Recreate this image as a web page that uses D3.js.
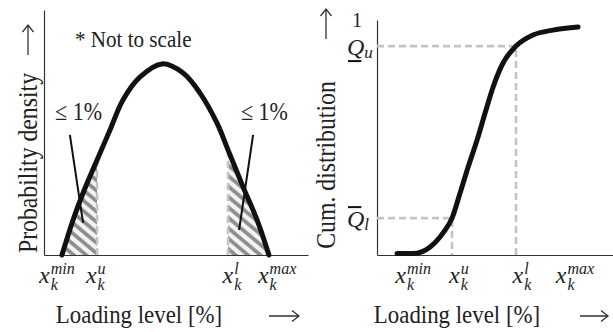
<!DOCTYPE html>
<html lang="en">
<head>
  <meta charset="UTF-8" />
  <title>Loading level distributions</title>
  <script src="https://d3js.org/d3.v7.min.js"></script>
  <style>
    body { margin: 0; background: #fff; }
    svg { display: block; }
    text { font-family: "Liberation Serif", "Times New Roman", serif; fill: #222; }
  </style>
</head>
<body>
  <div id="chart"></div>

  <script>
    // ----- Data (loading level in %, density / cumulative probability) -----
    const densityX = [6.8, 11.0, 14.8, 20.1, 25.0, 29.9, 36.4, 44.7, 52.7, 59.1, 65.5, 69.7, 75.4, 80.7, 85.2];
    const densityY = [0, 0.143, 0.253, 0.388, 0.51, 0.633, 0.727, 0.78, 0.743, 0.661, 0.539, 0.429, 0.278, 0.143, 0];
    const densityXu = 20.1;   // x_k^u on left panel
    const densityXl = 69.7;   // x_k^l on left panel

    const cdfX = [8.5, 15.3, 22.5, 28.0, 31.8, 35.2, 38.6, 42.4, 45.8, 49.2, 53.4, 58.9, 66.1, 74.6, 85.2];
    const cdfY = [0.006, 0.006, 0.034, 0.094, 0.157, 0.264, 0.374, 0.489, 0.604, 0.715, 0.817, 0.889, 0.936, 0.957, 0.970];
    const cdfXu = 31.8, cdfQl = 0.157;
    const cdfXl = 58.9, cdfQu = 0.889;

    // tick labels (main letter, superscript, subscript) and where they sit
    const tickSup = ['min', 'u', 'l', 'max'];
    const tickSub = ['k', 'k', 'k', 'k'];
    const leftTickAt  = [4.9, 19.6, 71.2, 88.3];
    const rightTickAt = [15.3, 34.7, 61.4, 83.9];

    const W = 613, H = 332;
    const SX = 0.88;   // the figure's serif is set a bit narrow

    const svg = d3.select('#chart').append('svg')
      .attr('width', W).attr('height', H);

    const defs = svg.append('defs');
    const pat = defs.append('pattern')
      .attr('id', 'hatch')
      .attr('patternUnits', 'userSpaceOnUse')
      .attr('width', 8).attr('height', 8)
      .attr('patternTransform', 'rotate(40)');
    pat.append('rect').attr('width', 8).attr('height', 8).attr('fill', '#f3f3f3');
    pat.append('line')
      .attr('x1', 0).attr('y1', 4).attr('x2', 8).attr('y2', 4)
      .attr('stroke', '#8a8a8a').attr('stroke-width', 3.6);

    // ----- helpers -----
    function txt(parent, x, y, s, size, anchor, rot) {
      return parent.append('text')
        .attr('transform', `translate(${x},${y}) rotate(${rot || 0}) scale(${SX},1)`)
        .attr('font-size', size)
        .attr('text-anchor', anchor || 'start')
        .text(s);
    }

    // thin open arrow, like the text arrow in the figure
    function arrow(cx, cy, len, rot) {
      const h = len / 2;
      svg.append('path')
        .attr('transform', `translate(${cx},${cy}) rotate(${rot || 0})`)
        .attr('d', `M${-h},0H${h}M${h - 7},-5.5L${h},0L${h - 7},5.5`)
        .attr('fill', 'none').attr('stroke', '#333').attr('stroke-width', 1.3);
    }

    function mathLabel(parent, cx, base, sup, sub) {
      const g = parent.append('g');
      const m = g.append('text').attr('font-size', 24).attr('font-style', 'italic').text('x');
      const w = m.node().getComputedTextLength() + 1;
      const a = g.append('text').attr('x', w).attr('y', -9)
        .attr('font-size', 16).attr('font-style', 'italic').text(sup);
      const b = g.append('text').attr('x', w).attr('y', 7)
        .attr('font-size', 16).attr('font-style', 'italic').text(sub);
      const tot = w + Math.max(a.node().getComputedTextLength(), b.node().getComputedTextLength());
      g.attr('transform', `translate(${cx - tot / 2},${base})`);
    }

    function axes(x, y) {
      svg.append('g').attr('transform', `translate(0,${y.range()[0]})`)
        .call(d3.axisBottom(x).tickValues([]).tickSizeOuter(0))
        .select('.domain').attr('stroke', '#333').attr('stroke-width', 1.2);
      svg.append('g').attr('transform', `translate(${x.range()[0]},0)`)
        .call(d3.axisLeft(y).tickValues([]).tickSizeOuter(0))
        .select('.domain').attr('stroke', '#333').attr('stroke-width', 1.2);
    }

    function dashed(pts) {
      svg.append('path')
        .attr('d', d3.line()(pts))
        .attr('fill', 'none')
        .attr('stroke', '#c4c4c4')
        .attr('stroke-width', 2.6)
        .attr('stroke-dasharray', '7,4');
    }

    // ===== Left panel: probability density =====
    const xL = d3.scaleLinear().domain([0, 100]).range([44, 308]);
    const yL = d3.scaleLinear().domain([0, 1]).range([255, 10]);
    const dens = densityX.map((d, i) => [d, densityY[i]]);

    axes(xL, yL);

    const area = d3.area()
      .x(d => xL(d[0])).y0(yL(0)).y1(d => yL(d[1]))
      .curve(d3.curveCatmullRom.alpha(0.5));

    defs.append('clipPath').attr('id', 'clipLo').append('rect')
      .attr('x', xL(0)).attr('y', yL(1))
      .attr('width', xL(densityXu) - xL(0)).attr('height', yL(0) - yL(1));
    defs.append('clipPath').attr('id', 'clipHi').append('rect')
      .attr('x', xL(densityXl)).attr('y', yL(1))
      .attr('width', xL(100) - xL(densityXl)).attr('height', yL(0) - yL(1));

    ['clipLo', 'clipHi'].forEach(id => {
      svg.append('path').datum(dens)
        .attr('d', area)
        .attr('fill', 'url(#hatch)')
        .attr('clip-path', `url(#${id})`);
    });

    const yAtU = densityY[densityX.indexOf(densityXu)];
    const yAtL = densityY[densityX.indexOf(densityXl)];
    dashed([[xL(densityXu), yL(yAtU)], [xL(densityXu), yL(0)]]);
    dashed([[xL(densityXl), yL(yAtL)], [xL(densityXl), yL(0)]]);

    svg.append('path').datum(dens)
      .attr('d', d3.line().x(d => xL(d[0])).y(d => yL(d[1])).curve(d3.curveCatmullRom.alpha(0.5)))
      .attr('fill', 'none').attr('stroke', '#111').attr('stroke-width', 5)
      .attr('stroke-linecap', 'round');

    // leader lines to the "<= 1%" notes
    const leaders = [[[9.8, 0.49], [14.8, 0.131]], [[79.2, 0.49], [73.9, 0.102]]];
    leaders.forEach(l => {
      svg.append('line')
        .attr('x1', xL(l[0][0])).attr('y1', yL(l[0][1]))
        .attr('x2', xL(l[1][0])).attr('y2', yL(l[1][1]))
        .attr('stroke', '#111').attr('stroke-width', 2);
    });
    txt(svg, xL(4.2), yL(0.551), '\u2264 1%', 25);
    txt(svg, xL(74.6), yL(0.551), '\u2264 1%', 25);
    txt(svg, xL(11.7), yL(0.849), '* Not to scale', 24);

    tickSup.forEach((s, i) => mathLabel(svg, xL(leftTickAt[i]), 283, s, tickSub[i]));

    txt(svg, 139, 323, 'Loading level [%]', 26, 'middle');
    arrow(284, 316, 30);
    txt(svg, 37, 163, 'Probability density', 27, 'middle', -90);
    arrow(28, 40, 30, -90);

    // ===== Right panel: cumulative distribution =====
    const xR = d3.scaleLinear().domain([0, 100]).range([377, 613]);
    const yR = d3.scaleLinear().domain([0, 1]).range([255, 20]);
    const cdf = cdfX.map((d, i) => [d, cdfY[i]]);

    axes(xR, yR);

    dashed([[xR(0), yR(cdfQu)], [xR(cdfXl), yR(cdfQu)], [xR(cdfXl), yR(0)]]);
    dashed([[xR(0), yR(cdfQl)], [xR(cdfXu), yR(cdfQl)], [xR(cdfXu), yR(0)]]);

    svg.append('path').datum(cdf)
      .attr('d', d3.line().x(d => xR(d[0])).y(d => yR(d[1])).curve(d3.curveMonotoneX))
      .attr('fill', 'none').attr('stroke', '#111').attr('stroke-width', 5)
      .attr('stroke-linecap', 'round');

    tickSup.forEach((s, i) => mathLabel(svg, xR(rightTickAt[i]), 283, s, tickSub[i]));

    // y-axis value labels
    txt(svg, 357, yR(1) + 7, '1', 22, 'middle');
    function qLabel(yv, sub, bar) {
      const g = svg.append('g');
      const q = g.append('text').attr('font-size', 24).attr('font-style', 'italic').text('Q');
      const w = q.node().getComputedTextLength();
      g.append('text').attr('x', w).attr('y', 3).attr('font-size', 17).attr('font-style', 'italic').text(sub);
      g.append('line')
        .attr('x1', 1).attr('x2', w - 3)
        .attr('y1', bar === 'under' ? 6 : -20).attr('y2', bar === 'under' ? 6 : -20)
        .attr('stroke', '#111').attr('stroke-width', 2);
      g.attr('transform', `translate(347,${yR(yv) + 9})`);
    }
    qLabel(cdfQu, 'u', 'under');
    qLabel(cdfQl, 'l', 'over');

    txt(svg, 457, 323, 'Loading level [%]', 26, 'middle');
    arrow(594, 316, 28);
    txt(svg, 335, 165, 'Cum. distribution', 27, 'middle', -90);
    arrow(326, 24, 30, -90);
  </script>
</body>
</html>
